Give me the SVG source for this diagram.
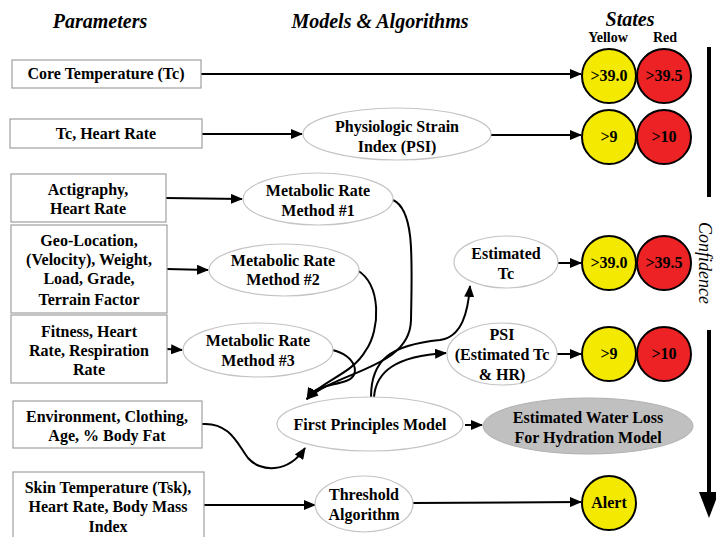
<svg xmlns="http://www.w3.org/2000/svg" width="716" height="537" viewBox="0 0 716 537">
<style>
text{font-family:"Liberation Serif","Times New Roman",serif;fill:#000;}
.h{font-size:20px;font-weight:bold;font-style:italic;text-anchor:middle;}
.t{font-size:16px;font-weight:bold;text-anchor:middle;}
.s{font-size:14px;font-weight:bold;text-anchor:middle;}
.box{fill:#fff;stroke:#a0a0a0;stroke-width:1.2;}
.ell{fill:#fff;stroke:#c4c4c4;stroke-width:1.2;}
.y{fill:#f4e900;stroke:#000;stroke-width:2;}
.r{fill:#ec2224;stroke:#000;stroke-width:2;}
.c{fill:none;stroke:#000;stroke-width:2;marker-end:url(#a);}
</style>
<defs>
<marker id="a" markerUnits="userSpaceOnUse" markerWidth="12" markerHeight="10" refX="11" refY="5" orient="auto">
<path d="M0,0 L12,5 L0,10 z" fill="#000"/>
</marker>
</defs>
<rect width="716" height="537" fill="#fff"/>
<g id="headers">
<text class="h" x="100" y="28">Parameters</text>
<text class="h" x="380" y="28">Models &amp; Algorithms</text>
<text class="h" x="630" y="26">States</text>
<text class="s" x="608" y="42">Yellow</text>
<text class="s" x="665" y="42">Red</text>
</g>
<g id="connectors">
<path class="c" d="M201,74 L581,74"/>
<path class="c" d="M202,134 L302,134"/>
<path class="c" d="M491,135 L581,135"/>
<path class="c" d="M166,198 L242,199"/>
<path class="c" d="M167,269 L208,270"/>
<path class="c" d="M167,349 L182,350"/>
<path class="c" d="M202,424 C230,422 238,445 248,458 C260,472 288,474 305,448"/>
<path class="c" d="M393,200 C415,210 412,260 411,320 C410,368 340,370 307,399"/>
<path class="c" d="M357,270 C382,285 380,330 366,350 C352,375 322,380 307,399"/>
<path class="c" d="M332,350 C356,355 362,376 346,381 C332,386 315,385 307,399"/>
<path class="c" d="M371,397 C371,360 390,345 440,340 C462,337 468,312 470,286"/>
<path class="c" d="M374,397 C376,372 395,356 446,353"/>
<path class="c" d="M558,263 L581,263"/>
<path class="c" d="M557,354 L581,354"/>
<path class="c" d="M465,425 L482,425"/>
<path class="c" d="M413,503 L581,502"/>
<path class="c" d="M204,505 L315,505"/>
</g>
<g id="p-core"><rect class="box" x="12" y="60" width="189" height="28"/><text class="t" x="106" y="79">Core Temperature (Tc)</text></g>
<g id="p-tchr"><rect class="box" x="10" y="119" width="192" height="29"/><text class="t" x="106" y="139">Tc, Heart Rate</text></g>
<g id="p-acti"><rect class="box" x="11" y="174" width="155" height="48"/><text class="t" x="88" y="195">Actigraphy,</text><text class="t" x="88" y="214">Heart Rate</text></g>
<g id="p-geo"><rect class="box" x="11" y="225" width="156" height="88"/><text class="t" x="89" y="246">Geo-Location,</text><text class="t" x="89" y="265">(Velocity), Weight,</text><text class="t" x="89" y="284">Load, Grade,</text><text class="t" x="89" y="305">Terrain Factor</text></g>
<g id="p-fit"><rect class="box" x="11" y="315" width="156" height="68"/><text class="t" x="89" y="337">Fitness, Heart</text><text class="t" x="89" y="356">Rate, Respiration</text><text class="t" x="89" y="375">Rate</text></g>
<g id="p-env"><rect class="box" x="13" y="401" width="189" height="47"/><text class="t" x="107" y="422">Environment, Clothing,</text><text class="t" x="107" y="441">Age, % Body Fat</text></g>
<g id="p-skin"><rect class="box" x="13" y="472" width="191" height="70"/><text class="t" x="108" y="493">Skin Temperature (Tsk),</text><text class="t" x="108" y="512">Heart Rate, Body Mass</text><text class="t" x="108" y="532">Index</text></g>
<g id="m-psi"><ellipse class="ell" cx="397" cy="134" rx="94" ry="26"/><text class="t" x="397" y="132">Physiologic Strain</text><text class="t" x="397" y="152">Index (PSI)</text></g>
<g id="m-mr1"><ellipse class="ell" cx="318" cy="199" rx="75" ry="26"/><text class="t" x="318" y="196">Metabolic Rate</text><text class="t" x="318" y="216">Method #1</text></g>
<g id="m-mr2"><ellipse class="ell" cx="284" cy="270" rx="75" ry="26"/><text class="t" x="283" y="266">Metabolic Rate</text><text class="t" x="283" y="285">Method #2</text></g>
<g id="m-mr3"><ellipse class="ell" cx="258" cy="350" rx="75" ry="27"/><text class="t" x="258" y="346">Metabolic Rate</text><text class="t" x="258" y="366">Method #3</text></g>
<g id="m-fpm"><ellipse class="ell" cx="370" cy="424" rx="93" ry="27"/><text class="t" x="370" y="430">First Principles Model</text></g>
<g id="m-esttc"><ellipse class="ell" cx="506" cy="262" rx="52" ry="26"/><text class="t" x="506" y="259">Estimated</text><text class="t" x="506" y="279">Tc</text></g>
<g id="m-psiest"><ellipse class="ell" cx="502" cy="354" rx="55" ry="31"/><text class="t" x="502" y="340">PSI</text><text class="t" x="502" y="360">(Estimated Tc</text><text class="t" x="502" y="380">&amp; HR)</text></g>
<g id="m-water"><ellipse cx="588" cy="426" rx="105" ry="28" fill="#c0c0c0" stroke="#b0b0b0"/><text class="t" x="588" y="423">Estimated Water Loss</text><text class="t" x="588" y="443">For Hydration Model</text></g>
<g id="m-thr"><ellipse class="ell" cx="364" cy="504" rx="49" ry="28"/><text class="t" x="364" y="500">Threshold</text><text class="t" x="364" y="520">Algorithm</text></g>
<g id="s-row1"><circle class="y" cx="609" cy="76" r="27"/><text class="t" x="609" y="81">&gt;39.0</text><circle class="r" cx="664" cy="76" r="27"/><text class="t" x="664" y="81">&gt;39.5</text></g>
<g id="s-row2"><circle class="y" cx="609" cy="137" r="27"/><text class="t" x="609" y="142">&gt;9</text><circle class="r" cx="664" cy="137" r="27"/><text class="t" x="664" y="142">&gt;10</text></g>
<g id="s-row3"><circle class="y" cx="609" cy="263" r="27"/><text class="t" x="609" y="268">&gt;39.0</text><circle class="r" cx="664" cy="263" r="27"/><text class="t" x="664" y="268">&gt;39.5</text></g>
<g id="s-row4"><circle class="y" cx="609" cy="354" r="27"/><text class="t" x="609" y="359">&gt;9</text><circle class="r" cx="664" cy="354" r="27"/><text class="t" x="664" y="359">&gt;10</text></g>
<g id="s-alert"><circle class="y" cx="609" cy="503" r="27"/><text class="t" x="609" y="508">Alert</text></g>
<g id="confidence">
<line x1="709" y1="47" x2="709" y2="197" stroke="#000" stroke-width="4"/>
<line x1="709" y1="330" x2="709" y2="495" stroke="#000" stroke-width="4"/>
<path d="M699,492 L719,492 L709,518 z" fill="#000"/>
<text transform="translate(699,263) rotate(90)" font-size="18" font-style="italic" text-anchor="middle">Confidence</text>
</g>
</svg>
